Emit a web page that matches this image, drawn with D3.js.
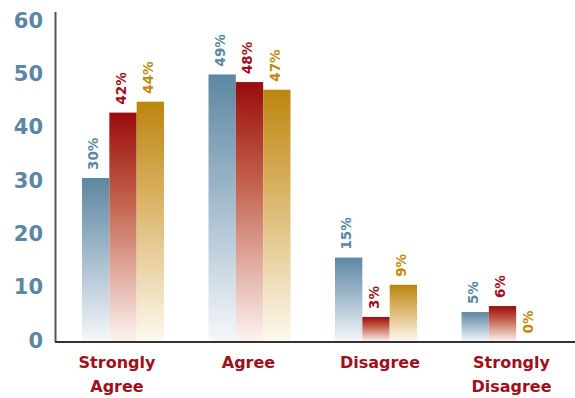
<html>
<head>
<title>Survey responses</title>
<script src="https://cdn.jsdelivr.net/npm/d3@7/dist/d3.min.js"></script>
<style>
body { margin: 0; background-color: white; }
#svg { background-color: white; display: block; }
</style>
</head>
<body>
<svg id="svg"></svg>
<script>

// data
var categories = ["Strongly Agree", "Agree", "Disagree", "Strongly Disagree"];
var seriesNames = ["blue", "red", "gold"];
var blueValues = [30, 49, 15.4, 5.4];
var redValues = [42, 47.6, 4.5, 6.5];
var goldValues = [44, 46.2, 10.4, 0];
var blueLabels = ["30%", "49%", "15%", "5%"];
var redLabels = ["42%", "48%", "3%", "6%"];
var goldLabels = ["44%", "47%", "9%", "0%"];
var yTicks = [0, 10, 20, 30, 40, 50, 60];

var colors = {
	blue: { text: "#5b87a3", stops: [[0, "#5d87a2"], [0.45, "#9fb8ca"], [1, "#f5f8fb"]] },
	red: { text: "#a0101a", stops: [[0, "#990c0c"], [0.4, "#c4644e"], [1, "#fcf3f0"]] },
	gold: { text: "#c08a10", stops: [[0, "#bc850e"], [0.4, "#d9b264"], [1, "#fdf9f0"]] }
};

var svg = d3.select("#svg").attr("width", 575).attr("height", 398);

var rows = categories.map(function (c, i) {
	return {
		cat: c,
		vals: [
			{ key: "blue", v: blueValues[i], label: blueLabels[i] },
			{ key: "red", v: redValues[i], label: redLabels[i] },
			{ key: "gold", v: goldValues[i], label: goldLabels[i] }
		]
	};
});

// scales
var y = d3.scaleLinear().domain([0, 60]).range([341.5, 14.5]);
var yLab = d3.scaleLinear().domain([0, 60]).range([340, 20]); // tick labels sit a bit lower
var x0 = d3.scalePoint().domain(categories).range([123, 502.5]);
var x1 = d3.scaleBand().domain(seriesNames).range([-41, 41]);
var xLab = d3.scaleBand().domain(categories).range([51.25, 577.25]);

// gradients
var defs = svg.append("defs");
seriesNames.forEach(function (k) {
	var g = defs.append("linearGradient")
		.attr("id", "grad-" + k)
		.attr("x1", 0).attr("y1", 0).attr("x2", 0).attr("y2", 1);
	colors[k].stops.forEach(function (s) {
		g.append("stop").attr("offset", s[0]).attr("stop-color", s[1]);
	});
});

// bars
var groups = svg.selectAll("g.group").data(rows).enter().append("g")
	.attr("class", "group")
	.attr("transform", function (d) { return "translate(" + x0(d.cat) + ",0)"; });

groups.selectAll("rect").data(function (d) { return d.vals.filter(function (e) { return e.v > 0; }); })
	.enter().append("rect")
	.attr("x", function (d) { return x1(d.key); })
	.attr("y", function (d) { return y(d.v); })
	.attr("width", x1.bandwidth())
	.attr("height", function (d) { return y(0) - y(d.v); })
	.style("fill", function (d) { return "url(#grad-" + d.key + ")"; });

// value labels, rotated
groups.selectAll("text.val").data(function (d) { return d.vals; })
	.enter().append("text")
	.attr("class", "val")
	.attr("transform", function (d) {
		return "translate(" + (x1(d.key) + x1.bandwidth() / 2 - 2) + "," + (y(d.v) - 8) + ") rotate(-90)";
	})
	.attr("dy", "0.35em")
	.text(function (d) { return d.label; })
	.style("font-family", "DejaVu Sans")
	.style("font-weight", "bold")
	.style("font-size", "13.5px")
	.style("fill", function (d) { return colors[d.key].text; });

// axis lines
svg.append("line")
	.attr("x1", 55.5).attr("x2", 55.5).attr("y1", 12).attr("y2", 342)
	.style("stroke", "#555").style("stroke-width", 2);
svg.append("line")
	.attr("x1", 55).attr("x2", 575).attr("y1", 342).attr("y2", 342)
	.style("stroke", "#333").style("stroke-width", 2);

// y tick labels
svg.selectAll("text.ytick").data(yTicks).enter().append("text")
	.attr("class", "ytick")
	.attr("x", 43)
	.attr("y", function (d) { return yLab(d); })
	.attr("dy", "0.36em")
	.style("text-anchor", "end")
	.style("font-family", "DejaVu Sans")
	.style("font-weight", "bold")
	.style("font-size", "21px")
	.style("fill", "#5b87a3")
	.text(function (d) { return d; });

// category labels, broken into lines
categories.forEach(function (c) {
	var words = c.split(" ");
	for (var j = 0; j < words.length; j++) {
		svg.append("text")
			.attr("x", xLab(c) + xLab.bandwidth() / 2)
			.attr("y", 368 + j * 24)
			.style("text-anchor", "middle")
			.style("font-family", "DejaVu Sans")
			.style("font-weight", "bold")
			.style("font-size", "16px")
			.style("fill", "#a0101a")
			.text(words[j]);
	}
});

</script>
</body>
</html>
